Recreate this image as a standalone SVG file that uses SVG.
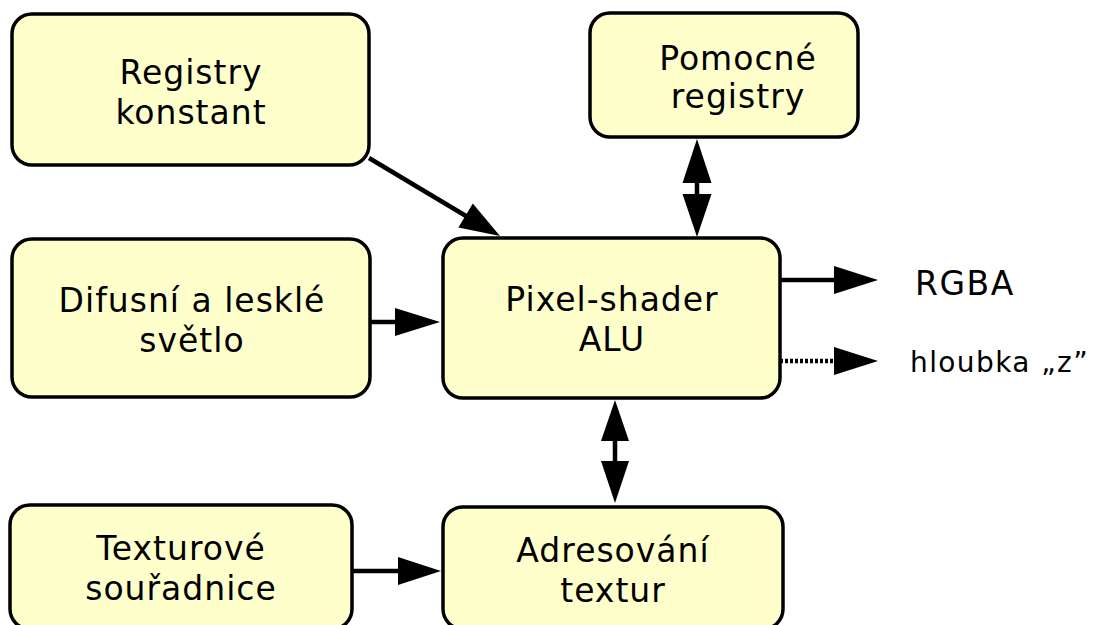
<svg xmlns="http://www.w3.org/2000/svg" width="1093" height="625" viewBox="0 0 1093 625">
  <style>
    .box { fill: #ffffcc; stroke: #000; stroke-width: 3.5; }
    .lbl { font-family: "DejaVu Sans", "Liberation Sans", sans-serif; font-size: 33px; letter-spacing: 1px; fill: #000; text-anchor: middle; }
    .out { font-family: "DejaVu Sans", "Liberation Sans", sans-serif; fill: #000; }
    .wire { stroke: #000; stroke-width: 4.5; fill: none; }
    .dots { stroke: #000; stroke-width: 4.5; fill: none; stroke-dasharray: 3 2; }
    .head { fill: #000; stroke: none; }
  </style>

  <rect width="1093" height="625" fill="#fff"/>

  <g id="registry-konstant">
    <rect class="box" x="12" y="14" width="357" height="151" rx="20"/>
    <text class="lbl" x="191" y="84">Registry</text>
    <text class="lbl" x="191" y="124">konstant</text>
  </g>

  <g id="pomocne-registry">
    <rect class="box" x="590" y="13" width="268" height="124" rx="20"/>
    <text class="lbl" x="738" y="70">Pomocné</text>
    <text class="lbl" x="738" y="108">registry</text>
  </g>

  <g id="difusni-svetlo">
    <rect class="box" x="12" y="239" width="358" height="158" rx="20"/>
    <text class="lbl" x="192" y="312">Difusní a lesklé</text>
    <text class="lbl" x="192" y="352">světlo</text>
  </g>

  <g id="pixel-shader-alu">
    <rect class="box" x="443" y="238" width="337" height="160" rx="20"/>
    <text class="lbl" x="612" y="311">Pixel-shader</text>
    <text class="lbl" x="612" y="351">ALU</text>
  </g>

  <g id="texturove-souradnice">
    <rect class="box" x="10" y="505" width="342" height="124" rx="20"/>
    <text class="lbl" x="181" y="560">Texturové</text>
    <text class="lbl" x="181" y="600">souřadnice</text>
  </g>

  <g id="adresovani-textur">
    <rect class="box" x="443" y="507" width="340" height="122" rx="20"/>
    <text class="lbl" x="613" y="561.5">Adresování</text>
    <text class="lbl" x="613" y="601.5">textur</text>
  </g>

  <g id="connectors">
    <!-- constants into the ALU -->
    <line class="wire" x1="369" y1="158" x2="466" y2="216"/>
    <polygon class="head" points="500,236 458.4,227.6 472.8,203.6"/>

    <!-- temp registers <-> ALU -->
    <line class="wire" x1="697" y1="180" x2="697" y2="197"/>
    <polygon class="head" points="697,139 711.5,183 682.5,183"/>
    <polygon class="head" points="697,237 711.5,194 682.5,194"/>

    <!-- lighting into the ALU -->
    <line class="wire" x1="370" y1="322" x2="398" y2="322"/>
    <polygon class="head" points="440,322 395,308 395,336"/>

    <!-- ALU <-> texture addressing -->
    <line class="wire" x1="615" y1="438" x2="615" y2="463"/>
    <polygon class="head" points="615,400 629,441 601,441"/>
    <polygon class="head" points="615,503 629,461 601,461"/>

    <!-- texture coordinates into addressing -->
    <line class="wire" x1="352" y1="571" x2="401" y2="571"/>
    <polygon class="head" points="441,571 398,557 398,585"/>

    <!-- outputs -->
    <line class="wire" x1="780" y1="280" x2="837" y2="280"/>
    <polygon class="head" points="878,280 834,266 834,294"/>
    <line class="dots" x1="780" y1="361" x2="834" y2="361"/>
    <polygon class="head" points="878,361 834,347 834,375"/>
  </g>

  <g id="outputs">
    <text class="out" x="915" y="295" font-size="33" letter-spacing="1.5">RGBA</text>
    <text class="out" x="910" y="372" font-size="28" letter-spacing="1.4">hloubka „z”</text>
  </g>
</svg>
